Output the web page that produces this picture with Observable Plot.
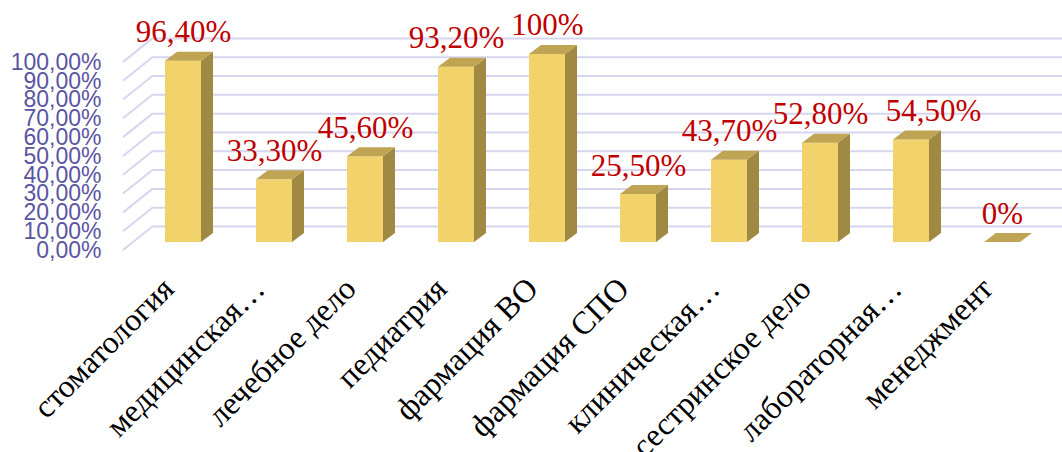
<!DOCTYPE html>
<html>
<head>
<meta charset="utf-8">
<script src="https://cdn.jsdelivr.net/npm/d3@7"></script>
<script src="https://cdn.jsdelivr.net/npm/@observablehq/plot@0.6"></script>
<style>
  html, body { margin: 0; padding: 0; background: #fff; }
  #chart svg { display: block; overflow: visible; }
</style>
</head>
<body>
<div id="chart"></div>
<script>
const categories = ["стоматология", "медицинская…", "лечебное дело", "педиатрия", "фармация ВО", "фармация СПО", "клиническая…", "сестринское дело", "лабораторная…", "менеджмент"];
const values = [96.4, 33.3, 45.6, 93.2, 100, 25.5, 43.7, 52.8, 54.5, 0];
const valueLabels = ["96,40%", "33,30%", "45,60%", "93,20%", "100%", "25,50%", "43,70%", "52,80%", "54,50%", "0%"];
const yTicks = [0, 10, 20, 30, 40, 50, 60, 70, 80, 90, 100];

const data = categories.map((c, i) => ({cat: c, value: values[i], label: valueLabels[i]}));

// styling / layout constants
const FRONT = "#F2D36B", SIDE = "#A08943", TOP = "#BFA553", GRID = "#D6D6EE";
const DEPTH_X = 12, DEPTH_Y = -9;       // bar depth offset
const WALL_DX = 30, WALL_DY = -24;      // side wall offset (front -> back)
const FRONT_DY = 8;                     // front plane offset of axis vs. bars
const labelNudge = {"лабораторная…": 22}; // value label moved aside to avoid overlap

const chart = Plot.plot({
  width: 1062,
  height: 452,
  marginLeft: 153,
  marginRight: 0,
  marginTop: 0,
  marginBottom: 202,
  style: {fontFamily: "Liberation Serif", background: "white"},
  x: {type: "band", domain: categories, range: [105.5, 1079.6], padding: 0.6},
  y: {domain: [0, 100], range: [242, 53.9]},
  marks: [
    Plot.ruleY(yTicks, {y: d => d, dy: FRONT_DY + WALL_DY, stroke: GRID, strokeWidth: 2}),
    Plot.barY(data, {x: "cat", y: "value", fill: FRONT}),
    Plot.text(data.filter(d => !(d.cat in labelNudge)), {x: "cat", y: "value", text: "label", dy: -19, lineAnchor: "bottom",
      fill: "#C00000", fontSize: 31, fontFamily: "Liberation Serif"}),
    Plot.text(data.filter(d => d.cat in labelNudge), {x: "cat", y: "value", text: "label", dy: -19,
      dx: labelNudge["лабораторная…"], lineAnchor: "bottom",
      fill: "#C00000", fontSize: 31, fontFamily: "Liberation Serif"}),
    Plot.axisY({ticks: yTicks, tickFormat: d => d.toFixed(2).replace(".", ",") + "%",
      tickSize: 0, tickPadding: 52, dy: FRONT_DY, fontSize: 23, color: "#5A559F",
      fontFamily: "Liberation Sans", label: null}),
    Plot.axisX({tickRotate: -45, tickSize: 0, tickPadding: 33, dx: -15, fontSize: 32,
      fontFamily: "Liberation Serif", color: "#000", label: null})
  ]
});
document.getElementById("chart").appendChild(chart);

// 3D decorations computed from Plot's own scales
const sx = chart.scale("x"), sy = chart.scale("y");
const bw = sx.bandwidth;
const barG = chart.querySelector('g[aria-label="bar"]');
const deco = document.createElementNS("http://www.w3.org/2000/svg", "g");
barG.after(deco);
const g = d3.select(deco);

// side wall diagonals
const x0 = 153;
g.selectAll("line.diag").data(yTicks).join("line")
  .attr("x1", x0 - WALL_DX).attr("y1", d => sy.apply(d) + FRONT_DY)
  .attr("x2", x0).attr("y2", d => sy.apply(d) + FRONT_DY + WALL_DY)
  .attr("stroke", GRID).attr("stroke-width", 2);

// side faces
g.selectAll("path.side").data(data).join("path")
  .attr("d", d => {
    const xr = sx.apply(d.cat) + bw, yt = sy.apply(d.value), yb = sy.apply(0);
    return `M${xr},${yt}L${xr + DEPTH_X},${yt + DEPTH_Y}L${xr + DEPTH_X},${yb + DEPTH_Y}L${xr},${yb}Z`;
  })
  .attr("fill", SIDE);

// top faces
g.selectAll("path.top").data(data).join("path")
  .attr("d", d => {
    const xl = sx.apply(d.cat), xr = xl + bw, yt = sy.apply(d.value);
    return `M${xl},${yt}L${xr},${yt}L${xr + DEPTH_X},${yt + DEPTH_Y}L${xl + DEPTH_X},${yt + DEPTH_Y}Z`;
  })
  .attr("fill", TOP);
</script>
</body>
</html>
